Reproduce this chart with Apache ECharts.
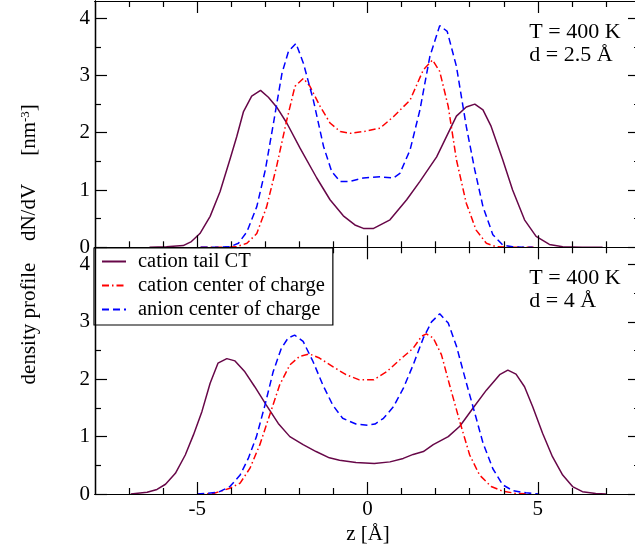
<!DOCTYPE html>
<html><head><meta charset="utf-8">
<script src="https://cdn.jsdelivr.net/npm/echarts@6/dist/echarts.min.js"></script>
<style>
html,body{margin:0;padding:0;background:#fff}
#wrap{position:relative;width:635px;height:552px}
#c,#t{position:absolute;left:0;top:0;width:635px;height:552px}
#t{pointer-events:none}
</style>
</head><body><div id="wrap"><div id="c"></div><div id="t"></div></div>
<script>
// ---- data (z in Å, density in nm^-3) ----
const seriesNames = ['cation tail CT', 'cation center of charge', 'anion center of charge'];
// top panel: d = 2.5 Å
const zTail1 = [-6.4,-5.9,-5.41,-5.17,-4.92,-4.62,-4.33,-4.03,-3.84,-3.64,-3.40,-3.14,-2.91,-2.67,-2.37,-1.98,-1.49,-1.10,-0.71,-0.37,-0.12,0.18,0.66,1.15,1.54,2.03,2.61,2.90,3.15,3.39,3.63,3.97,4.26,4.61,4.95,5.34,5.73,6.3,6.9];
const vTail1 = [0,0.01,0.03,0.10,0.24,0.54,0.97,1.55,1.93,2.37,2.64,2.74,2.62,2.45,2.17,1.73,1.21,0.83,0.55,0.39,0.33,0.33,0.48,0.83,1.15,1.58,2.29,2.45,2.50,2.40,2.11,1.53,1.00,0.48,0.19,0.05,0.01,0,0];
const zCat1 = [-4.9,-4.3,-3.84,-3.54,-3.25,-2.96,-2.67,-2.37,-2.13,-1.88,-1.69,-1.39,-1.10,-0.80,-0.51,-0.12,0.37,0.76,1.25,1.64,1.91,2.12,2.37,2.61,2.90,3.19,3.49,3.78,4.3,4.9];
const vCat1 = [0,0,0.01,0.07,0.24,0.71,1.41,2.22,2.81,2.95,2.81,2.46,2.17,2.02,1.99,2.02,2.08,2.28,2.57,3.10,3.27,3.07,2.46,1.53,0.77,0.30,0.07,0.01,0,0];
const zAn1 = [-4.9,-4.4,-4.03,-3.79,-3.54,-3.25,-3.0,-2.76,-2.51,-2.32,-2.10,-1.88,-1.59,-1.29,-1.05,-0.80,-0.51,-0.12,0.37,0.76,0.95,1.25,1.54,1.83,2.12,2.34,2.61,2.90,3.15,3.39,3.68,3.97,4.26,4.6,4.85];
const vAn1 = [0,0,0.01,0.07,0.27,0.71,1.35,2.17,3.04,3.42,3.56,3.21,2.57,1.76,1.32,1.15,1.15,1.21,1.23,1.21,1.29,1.70,2.40,3.33,3.87,3.77,3.16,2.11,1.35,0.71,0.22,0.04,0.01,0,0];
// bottom panel: d = 4 Å
const zTail2 = [-6.95,-6.47,-6.18,-5.93,-5.64,-5.35,-5.11,-4.86,-4.62,-4.39,-4.13,-3.89,-3.60,-3.31,-2.97,-2.62,-2.28,-1.89,-1.51,-1.12,-0.82,-0.34,0.2,0.66,1.05,1.34,1.64,1.93,2.37,2.71,3.10,3.49,3.88,4.12,4.36,4.61,4.85,5.14,5.43,5.73,6.02,6.31,6.70,7.0];
const vTail2 = [0,0.03,0.08,0.17,0.36,0.68,1.03,1.44,1.93,2.28,2.36,2.32,2.13,1.87,1.55,1.23,1.00,0.86,0.74,0.63,0.59,0.55,0.53,0.56,0.62,0.69,0.74,0.86,1.00,1.18,1.50,1.81,2.08,2.16,2.09,1.87,1.52,1.06,0.65,0.33,0.13,0.04,0.01,0];
const zCat2 = [-5.0,-4.52,-4.04,-3.74,-3.45,-3.16,-2.87,-2.58,-2.28,-1.99,-1.70,-1.41,-1.02,-0.63,-0.24,0.18,0.56,0.95,1.34,1.59,1.73,1.93,2.17,2.41,2.71,3.0,3.29,3.63,3.97,4.36,4.85];
const vCat2 = [0,0.01,0.10,0.19,0.45,0.86,1.38,1.90,2.25,2.40,2.44,2.37,2.22,2.08,1.99,1.99,2.13,2.34,2.54,2.75,2.79,2.72,2.43,1.90,1.26,0.68,0.33,0.13,0.05,0.01,0];
const zAn2 = [-5.0,-4.72,-4.38,-4.04,-3.74,-3.50,-3.26,-3.01,-2.77,-2.53,-2.33,-2.14,-1.89,-1.60,-1.31,-1.02,-0.73,-0.34,0,0.22,0.47,0.76,1.05,1.34,1.64,1.88,2.12,2.37,2.61,2.90,3.15,3.39,3.68,3.97,4.26,4.65,5.04];
const vAn2 = [0,0.01,0.03,0.13,0.33,0.62,1.00,1.55,2.13,2.54,2.72,2.77,2.66,2.31,1.90,1.55,1.32,1.22,1.20,1.22,1.32,1.52,1.84,2.25,2.72,3.0,3.14,2.98,2.58,1.94,1.41,0.89,0.44,0.16,0.06,0.02,0];
// axis ranges and ticks
const xRange = [-8, 8];
const yRange = [0, 4.3];
const xMajor = [-5, 0, 5];
const xMinor = [-7, -6, -4, -3, -2, -1, 1, 2, 3, 4, 6, 7];
const yMajor = [0, 1, 2, 3, 4];
const yMinor = [0.5, 1.5, 2.5, 3.5];
const panelNotes = [['T = 400 K', 'd = 2.5 Å'], ['T = 400 K', 'd = 4 Å']];
// part of the lower panel hidden behind the legend box (z below, density at/above)
const legendCover = {zMax: -1.5, vMin: 3};

// ---- chart ----
const FF = '"Liberation Serif", "Times New Roman", serif';
const BLACK = '#000';
const COLORS = ['#670748', '#ff0000', '#0000ff'];
const DASH = ['solid', [7, 3, 1.5, 3], [7, 4]];
const GRIDS = [
  {left: 95, top: 1, width: 545, height: 246.3},
  {left: 95, top: 247.3, width: 545, height: 246.7}
];
const ln = () => ({color: BLACK, width: 1.2});
const LBL = () => ({show: true, margin: 5, fontSize: 21, fontFamily: FF, color: BLACK});

function frameAxis(gi, pos, range, major, labels) {
  return {
    type: 'value', gridIndex: gi, position: pos, min: range[0], max: range[1],
    axisLine: {show: true, onZero: false, lineStyle: ln()},
    axisTick: {show: false},
    axisLabel: labels ? Object.assign(LBL(), {customValues: major.slice()}) : {show: false},
    splitLine: {show: false}
  };
}
function mk(idx, z, v, gi) {
  return {
    name: seriesNames[idx], type: 'line', xAxisIndex: gi * 2, yAxisIndex: gi * 2,
    data: z.map((x, i) => [x, v[i]]), symbol: 'none', showSymbol: false,
    lineStyle: {color: COLORS[idx], width: 1.5, type: DASH[idx]},
    itemStyle: {color: COLORS[idx]}, emphasis: {disabled: true}, z: 3 + idx
  };
}
function note(lines, x, y0) {
  return lines.map((t, i) => ({type: 'text', x: x, y: y0 + i * 22.4, z: 100,
    style: {text: t, fontSize: 22, fontFamily: FF, fill: BLACK, align: 'left', verticalAlign: 'middle'}}));
}

const chart = echarts.init(document.getElementById('c'));
chart.setOption({
  animation: false,
  backgroundColor: '#fff',
  textStyle: {fontFamily: FF},
  grid: GRIDS.map(g => Object.assign({containLabel: false, outerBoundsMode: 'none'}, g)),
  xAxis: [
    frameAxis(0, 'bottom', xRange, xMajor, false), frameAxis(0, 'top', xRange, xMajor, false),
    frameAxis(1, 'bottom', xRange, xMajor, true), frameAxis(1, 'top', xRange, xMajor, false)
  ],
  yAxis: [
    frameAxis(0, 'left', yRange, yMajor, true), frameAxis(0, 'right', yRange, yMajor, false),
    frameAxis(1, 'left', yRange, yMajor, true), frameAxis(1, 'right', yRange, yMajor, false)
  ],
  legend: {
    data: seriesNames, orient: 'vertical', left: 94, top: 248,
    backgroundColor: '#fff', borderColor: BLACK, borderWidth: 1.2, borderRadius: 0,
    padding: [3, 8, 5, 7], itemGap: 3, itemWidth: 24, itemHeight: 14,
    itemStyle: {opacity: 0, color: 'transparent', borderWidth: 0},
    textStyle: {fontSize: 20.5, fontFamily: FF, color: BLACK, padding: [0, 0, 0, 7]},
    selectedMode: false, z: 50
  },
  series: [
    mk(0, zTail1, vTail1, 0), mk(1, zCat1, vCat1, 0), mk(2, zAn1, vAn1, 0),
    mk(0, zTail2, vTail2, 1), mk(1, zCat2, vCat2, 1), mk(2, zAn2, vAn2, 1)
  ],
  graphic: [].concat(
    note(panelNotes[0], 529.3, 32.5),
    note(panelNotes[1], 529.3, 278.4),
    [
      {type: 'text', x: 368, y: 534, z: 100,
        style: {text: 'z [Å]', fontSize: 21, fontFamily: FF, fill: BLACK, align: 'center', verticalAlign: 'middle'}},
      {type: 'text', x: 29.5, y: 323.5, rotation: Math.PI / 2, z: 100,
        style: {text: 'density profile', fontSize: 21, fontFamily: FF, fill: BLACK, align: 'center', verticalAlign: 'middle'}},
      {type: 'text', x: 29.5, y: 212.5, rotation: Math.PI / 2, z: 100,
        style: {text: 'dN/dV', fontSize: 21, fontFamily: FF, fill: BLACK, align: 'center', verticalAlign: 'middle'}},
      {type: 'text', x: 29.5, y: 130, rotation: Math.PI / 2, z: 100,
        style: {text: '{a|[nm}{b|-3}{a|]}', fontSize: 21, fontFamily: FF, fill: BLACK, align: 'center', verticalAlign: 'middle',
          rich: {a: {fontSize: 21, fontFamily: FF, fill: BLACK, color: BLACK},
                 b: {fontSize: 13, fontFamily: FF, fill: BLACK, color: BLACK, verticalAlign: 'top'}}}}
    ]
  )
});

// ---- tick layer: same grids, axes that only draw the inward tick marks ----
function tickAxis(gi, pos, range, list, len) {
  return {
    type: 'value', gridIndex: gi, position: pos, min: range[0], max: range[1],
    axisLine: {show: true, onZero: false, lineStyle: ln()},
    axisTick: {show: true, inside: true, length: len, customValues: list.slice(), lineStyle: ln()},
    axisLabel: {show: false}, splitLine: {show: false}
  };
}
const topFree = v => v > legendCover.zMax;   // bottom panel top edge, outside the legend box
const leftFree = v => v < legendCover.vMin;  // bottom panel left edge, outside the legend box
const ticks = echarts.init(document.getElementById('t'));
ticks.setOption({
  animation: false,
  backgroundColor: 'transparent',
  grid: [0, 1, 0, 1].map(i => Object.assign({containLabel: false, outerBoundsMode: 'none'}, GRIDS[i])),
  xAxis: [
    tickAxis(0, 'bottom', xRange, xMajor, 12), tickAxis(0, 'top', xRange, xMajor, 12),
    tickAxis(1, 'bottom', xRange, xMajor, 12), tickAxis(1, 'top', xRange, xMajor.filter(topFree), 12),
    tickAxis(2, 'bottom', xRange, xMinor, 6), tickAxis(2, 'top', xRange, xMinor, 6),
    tickAxis(3, 'bottom', xRange, xMinor, 6), tickAxis(3, 'top', xRange, xMinor.filter(topFree), 6)
  ],
  yAxis: [
    tickAxis(0, 'left', yRange, yMajor, 12), tickAxis(0, 'right', yRange, yMajor, 12),
    tickAxis(1, 'left', yRange, yMajor.filter(leftFree), 12), tickAxis(1, 'right', yRange, yMajor, 12),
    tickAxis(2, 'left', yRange, yMinor, 6), tickAxis(2, 'right', yRange, yMinor, 6),
    tickAxis(3, 'left', yRange, yMinor.filter(leftFree), 6), tickAxis(3, 'right', yRange, yMinor, 6)
  ],
  series: [0, 1, 2, 3].map(i => ({type: 'line', xAxisIndex: i * 2, yAxisIndex: i * 2, data: [], silent: true}))
});
</script>
</body></html>
